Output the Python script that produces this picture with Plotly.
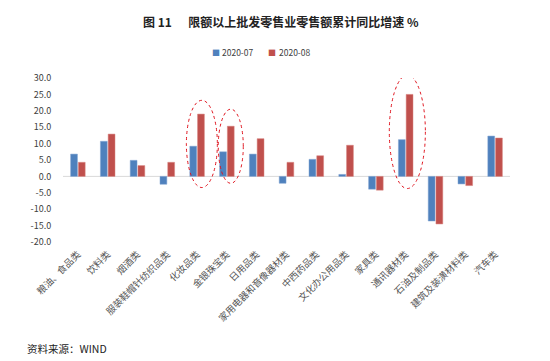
import plotly.graph_objects as go

categories = ["粮油、食品类", "饮料类", "烟酒类", "服装鞋帽针纺织品类", "化妆品类", "金银珠宝类",
              "日用品类", "家用电器和音像器材类", "中西药品类", "文化办公用品类", "家具类",
              "通讯器材类", "石油及制品类", "建筑及装潢材料类", "汽车类"]
s_jul = [6.8, 10.7, 4.9, -2.4, 9.2, 7.5, 6.8, -2.1, 5.2, 0.6, -3.9, 11.2, -13.6, -2.3, 12.3]
s_aug = [4.3, 12.9, 3.3, 4.3, 19.0, 15.3, 11.5, 4.3, 6.3, 9.5, -4.2, 25.0, -14.5, -2.8, 11.7]
series_names = ["2020-07", "2020-08"]
colors = ["#4F81BD", "#C0504D"]
tick_vals = [30, 25, 20, 15, 10, 5, 0, -5, -10, -15, -20]
tick_text = ["%.1f" % v for v in tick_vals]

# highlighted categories (index, x-left offset, x-right offset, y-bottom, y-top)
highlights = [(4, -0.36, 0.68, -3.4, 23.2), (5, -0.29, 0.55, -2.1, 20.5), (11, -0.55, 0.66, -3.7, 30.9)]

# the page body has an 8px default margin; compensate so the picture lines up
OFF = 8
W, H = 550 - OFF, 361 - OFF
L, T = 63 - OFF, 78 - OFF
pw, ph = 447, 164
R, B = W - L - pw, H - T - ph


def px(xp):
    return (xp - OFF - L) / pw


def py(yp):
    return (T + ph - (yp - OFF)) / ph


x = list(range(len(categories)))
fig = go.Figure()
fig.add_trace(go.Bar(x=x, y=s_jul, name=series_names[0],
                     marker=dict(color=colors[0], line=dict(color="#7FA3D3", width=0.5))))
fig.add_trace(go.Bar(x=x, y=s_aug, name=series_names[1],
                     marker=dict(color=colors[1], line=dict(color="#D9837F", width=0.5))))

for idx, a, b, y0, y1 in highlights:
    fig.add_shape(type="circle", xref="x", yref="y", x0=idx + a, x1=idx + b, y0=y0, y1=y1,
                  line=dict(color="#E0141E", width=1, dash="dot"), layer="above")

fig.add_shape(type="line", xref="paper", yref="y", x0=0, x1=1, y0=0, y1=0,
              line=dict(color="#D9D9D9", width=1), layer="below")

annotations = [
    dict(text="<b>图 11      限额以上批发零售业零售额累计同比增速 %</b>", xref="paper", yref="paper",
         x=px(281), y=py(22), xanchor="center", yanchor="middle", showarrow=False,
         font=dict(size=12, color="#222222")),
    dict(text="资料来源：WIND", xref="paper", yref="paper", x=px(25), y=py(348),
         xanchor="left", yanchor="middle", showarrow=False,
         font=dict(size=10.5, color="#222222")),
]
# legend drawn as text
leg_sq = [215.5, 272]
leg_tx = [220, 277]
for i in range(2):
    annotations.append(dict(text="■", xref="paper", yref="paper", x=px(leg_sq[i]), y=py(52),
                            xanchor="center", yanchor="middle", showarrow=False,
                            font=dict(size=8, color=colors[i])))
    annotations.append(dict(text=series_names[i], xref="paper", yref="paper", x=px(leg_tx[i]), y=py(52),
                            xanchor="left", yanchor="middle", showarrow=False,
                            font=dict(size=8.5, color="#404040")))

fig.update_layout(
    width=W, height=H,
    margin=dict(l=L, r=R, t=T, b=B),
    paper_bgcolor="white", plot_bgcolor="white",
    barmode="group", bargap=0.48, bargroupgap=0.12,
    font=dict(family="Noto Sans CJK SC, sans-serif", color="#404040"),
    showlegend=False,
    annotations=annotations,
)
fig.update_xaxes(tickmode="array", tickvals=x, ticktext=categories, tickangle=-45,
                 tickfont=dict(size=9.5, color="#555555", family="Noto Sans CJK SC"),
                 showgrid=False, zeroline=False, showline=False,
                 ticks="outside", ticklen=2, tickcolor="rgba(0,0,0,0)", automargin=False,
                 range=[-0.5, len(categories) - 0.5])
fig.update_yaxes(range=[-20, 30], tickmode="array", tickvals=tick_vals, ticktext=tick_text,
                 tickfont=dict(size=9, color="#404040"), showgrid=False, zeroline=False,
                 showline=False, ticks="outside", ticklen=9, tickcolor="rgba(0,0,0,0)",
                 automargin=False)
fig.write_html("out.html")
